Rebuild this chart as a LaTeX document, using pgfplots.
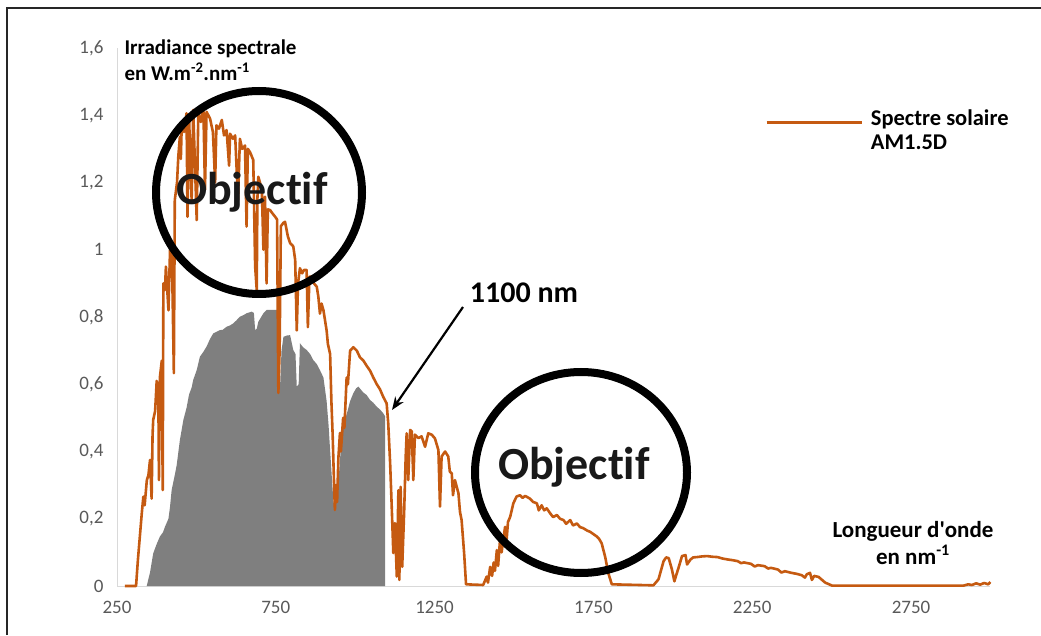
\documentclass[border=0pt]{standalone}
\usepackage{pgfplots}
\pgfplotsset{compat=1.18}
\usepackage{pgfplotstable}
\usepackage{fontspec}
\setmainfont{Carlito}[Ligatures={TeX,NoCommon}]
\usetikzlibrary{arrows.meta}
\definecolor{orangeAM}{HTML}{C55A11}
\definecolor{grayfill}{HTML}{7F7F7F}
\definecolor{ticktxt}{HTML}{595959}
\definecolor{axisgray}{HTML}{D9D9D9}

\pgfplotstableread{
nm val
275 0
310 0
316 0.08
328 0.216
333 0.266
337 0.24
344 0.315
349 0.33
354 0.375
359 0.26
362 0.45
364 0.494
370 0.52
375 0.61
379 0.57
380 0.603
382 0.315
385 0.62
391 0.67
394 0.285
396 0.9
401 0.88
404 0.95
412 0.82
417 1.0
423 0.98
429 0.633
432 1.148
439 1.2
443 1.277
448 1.336
451 1.27
454 1.377
461 1.35
469 1.406
472 1.098
477 1.39
485 1.148
490 1.416
501 1.088
506 1.41
514 1.38
522 1.42
527 1.178
532 1.41
543 1.39
552 1.35
559 1.2
563 1.37
571 1.36
580 1.386
587 1.34
595 1.356
603 1.25
606 1.345
615 1.33
622 1.34
631 1.148
637 1.33
644 1.3
653 1.31
658 1.069
662 1.3
669 1.29
679 1.267
685 0.95
690 0.88
692 1.15
695 1.217
706 1.18
711 1.0
716 1.158
721 0.9
725 1.12
732 1.118
738 1.11
748 1.098
754 1.09
758 0.574
762 0.7
766 1.07
774 1.08
779 1.083
788 1.04
795 1.02
805 1.01
811 0.97
816 0.76
820 0.9
826 0.945
833 0.93
839 0.94
847 0.94
851 0.77
856 0.92
863 0.92
870 0.9
879 0.89
884 0.86
889 0.81
894 0.84
900 0.82
905 0.79
910 0.76
914 0.72
921 0.69
925 0.55
929 0.45
932 0.35
936 0.226
940 0.3
943 0.25
947 0.38
952 0.455
955 0.4
962 0.5
966 0.47
973 0.62
977 0.6
984 0.70
994 0.71
1005 0.70
1015 0.68
1026 0.67
1036 0.655
1047 0.64
1057 0.62
1068 0.60
1078 0.585
1088 0.563
1099 0.543
1104 0.484
1110 0.365
1115 0.236
1120 0.098
1125 0.187
1131 0.028
1136 0.285
1139 0.018
1143 0.295
1148 0.057
1154 0.217
1159 0.385
1162 0.454
1167 0.315
1173 0.464
1178 0.46
1183 0.315
1188 0.45
1199 0.44
1209 0.445
1220 0.414
1230 0.454
1241 0.45
1251 0.439
1262 0.404
1267 0.236
1272 0.385
1283 0.40
1293 0.385
1298 0.34
1304 0.335
1308 0.27
1314 0.315
1325 0.276
1330 0.22
1335 0.196
1343 0.097
1349 0.005
1403 0.003
1414 0.028
1418 0.01
1425 0.057
1431 0.03
1436 0.07
1440 0.045
1446 0.107
1450 0.06
1456 0.137
1461 0.1
1465 0.13
1472 0.176
1477 0.14
1481 0.19
1488 0.206
1498 0.246
1508 0.266
1519 0.27
1527 0.262
1535 0.268
1550 0.26
1560 0.25
1572 0.246
1578 0.225
1587 0.24
1595 0.225
1603 0.231
1614 0.216
1623 0.205
1635 0.211
1645 0.2
1656 0.196
1664 0.185
1677 0.196
1686 0.18
1698 0.186
1708 0.175
1718 0.172
1730 0.165
1740 0.161
1749 0.155
1761 0.147
1768 0.14
1776 0.127
1782 0.105
1787 0.087
1797 0.038
1808 0.005
1939 0.002
1955 0.02
1971 0.074
1979 0.085
1987 0.083
1997 0.05
2005 0.014
2010 0.03
2018 0.054
2029 0.089
2040 0.092
2045 0.064
2055 0.078
2064 0.085
2076 0.086
2092 0.088
2108 0.089
2124 0.087
2141 0.086
2155 0.082
2172 0.079
2187 0.077
2204 0.074
2215 0.068
2224 0.07
2246 0.066
2258 0.058
2268 0.062
2289 0.059
2300 0.052
2309 0.054
2331 0.049
2342 0.04
2353 0.044
2374 0.039
2391 0.036
2406 0.032
2416 0.025
2422 0.035
2432 0.039
2438 0.018
2445 0.03
2459 0.027
2470 0.018
2480 0.01
2502 0.001
2915 0.001
2930 0.005
2942 0.003
2955 0.008
2968 0.004
2980 0.009
2993 0.005
3000 0.012
}\spectre

\pgfplotstableread{
nm val
343.5 0
354 0.04
364 0.097
375 0.125
385 0.147
395 0.16
401 0.176
412 0.2
417 0.236
422 0.285
433 0.335
438 0.36
448 0.434
459 0.494
469 0.53
477 0.57
485 0.59
490 0.613
501 0.642
511 0.682
521 0.695
532 0.712
543 0.735
553 0.751
561 0.755
574 0.761
583 0.762
595 0.771
606 0.775
616 0.781
626 0.79
637 0.801
647 0.805
658 0.811
674 0.816
681 0.812
685 0.761
690 0.765
695 0.786
704 0.8
711 0.811
721 0.821
753 0.821
758 0.6
763 0.583
768 0.7
774 0.741
785 0.745
795 0.746
805 0.702
812 0.69
816 0.593
822 0.6
826 0.722
836 0.71
847 0.702
858 0.69
868 0.672
879 0.66
889 0.642
900 0.62
910 0.55
916 0.48
921 0.404
931 0.256
936 0.226
941 0.26
947 0.305
954 0.4
962 0.48
973 0.51
984 0.55
994 0.573
1003 0.588
1010 0.593
1026 0.575
1036 0.568
1047 0.553
1057 0.545
1068 0.533
1078 0.525
1088 0.514
1094 0.505
1094 0
}\cellule

\begin{document}
\begin{tikzpicture}[x=1pt,y=1pt]
\path[use as bounding box] (0,0) rectangle (1041,635);
\draw[line width=1.2pt, black!85] (7,0) -- (7,627) -- (1041,627);
\begin{axis}[
  at={(117pt,49pt)}, anchor=south west,
  scale only axis, width=873.4pt, height=538pt,
  xmin=250, xmax=3000, ymin=0, ymax=1.6,
  axis lines*=left,
  axis line style={axisgray, line width=1pt},
  every outer x axis line/.append style={-}, every outer y axis line/.append style={-},
  xtick={250,750,1250,1750,2250,2750},
  xticklabels={250,750,1250,1750,2250,2750},
  ytick={0,0.2,0.4,0.6,0.8,1,1.2,1.4,1.6},
  yticklabels={0,{0,2},{0,4},{0,6},{0,8},1,{1,2},{1,4},{1,6}},
  major tick length=0pt,
  tick label style={font=\fontsize{19}{21}\selectfont, text=ticktxt},
  xticklabel style={yshift=-12pt},
  yticklabel style={xshift=-10pt},
  clip=false,
  legend style={draw=none, fill=none, at={(0.742,0.861)}, anchor=west,
    font=\bfseries\fontsize{22.5}{26}\selectfont, inner sep=0pt},
  legend image code/.code={\draw[#1] (0pt,0pt) -- (95pt,0pt);},
  legend cell align=left,
]
\addplot[fill=grayfill, draw=none, forget plot] table[x=nm, y=val] {\cellule} \closedcycle;
\addplot[orangeAM, line width=2.6pt, line join=round] table[x=nm, y=val] {\spectre};
\addlegendentry{\hspace{6pt}\begin{tabular}{@{}l@{}}Spectre solaire\\[-2pt]AM1.5D\end{tabular}}
\end{axis}
% annotations
\draw[line width=8pt, black] (259,442.5) ellipse [x radius=103, y radius=101.5];
\draw[line width=8pt, black] (581,162.5) ellipse [x radius=106, y radius=100.5];
\node[font=\bfseries\fontsize{46}{50}\selectfont, text=black!90] at (252,443) {Objectif};
\node[font=\bfseries\fontsize{46}{50}\selectfont, text=black!90] at (574,168) {Objectif};
\node[font=\bfseries\fontsize{30}{33}\selectfont] at (524,342) {1100 nm};
\draw[line width=2.2pt, -{Stealth[length=13pt,width=10pt]}] (463,328) -- (392,225);
\node[font=\bfseries\fontsize{21}{26}\selectfont, anchor=west, align=left] at (121,575) {Irradiance spectrale\\en W.m\textsuperscript{-2}.nm\textsuperscript{-1}};
\node[font=\bfseries\fontsize{23}{27}\selectfont, align=center] at (913,92) {Longueur d\textquotesingle onde\\en nm\textsuperscript{-1}};
\end{tikzpicture}
\end{document}
